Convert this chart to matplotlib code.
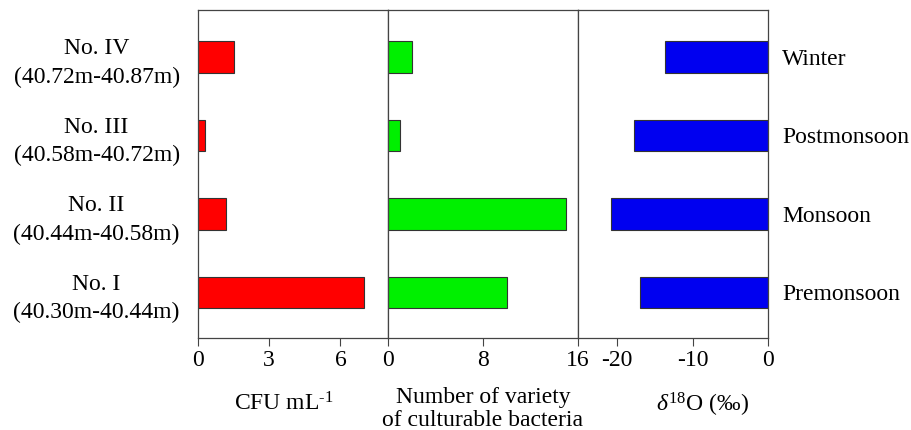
import matplotlib.pyplot as plt
import numpy as np

plt.rcParams['font.family'] = ['Liberation Serif', 'DejaVu Serif']
plt.rcParams['mathtext.fontset'] = 'custom'
plt.rcParams['mathtext.rm'] = 'Liberation Serif'
plt.rcParams['mathtext.it'] = 'Liberation Serif:italic'
plt.rcParams['axes.unicode_minus'] = False

# samples, bottom to top
samples = ['No. I\n(40.30m-40.44m)', 'No. II\n(40.44m-40.58m)',
           'No. III\n(40.58m-40.72m)', 'No. IV\n(40.72m-40.87m)']
seasons = ['Premonsoon', 'Monsoon', 'Postmonsoon', 'Winter']
cfu = [7.0, 1.2, 0.3, 1.5]
variety = [10, 15, 1, 2]
d18o = [-17.0, -20.8, -17.8, -13.7]

fig = plt.figure(figsize=(9.12, 4.3), dpi=100)
bot, h = 0.214, 0.763
ax1 = fig.add_axes([198 / 912, bot, 190 / 912, h])
ax2 = fig.add_axes([388 / 912, bot, 190 / 912, h], sharey=ax1)
ax3 = fig.add_axes([578 / 912, bot, 190 / 912, h], sharey=ax1)

y = np.arange(len(samples))
bh = 0.4
ax1.barh(y, cfu, height=bh, color='#ff0000', edgecolor='#333333', linewidth=0.8)
ax2.barh(y, variety, height=bh, color='#00f000', edgecolor='#333333', linewidth=0.8)
ax3.barh(y, d18o, height=bh, color='#0000f0', edgecolor='#333333', linewidth=0.8)

ax1.set_xlim(0, 8)
ax1.set_xticks([0, 3, 6])
ax2.set_xlim(0, 16)
ax2.set_xticks([0, 8, 16])
ax3.set_xlim(-25.2, 0)
ax3.set_xticks([-20, -10, 0])
ax1.set_ylim(-0.58, 3.6)

for ax in (ax1, ax2, ax3):
    for s in ax.spines.values():
        s.set_color('#444444')
        s.set_linewidth(0.9)
    ax.tick_params(axis='x', direction='out', length=6, width=0.8,
                   color='#444444', labelsize=17, pad=3)
    ax.tick_params(axis='y', length=0)

ax1.set_yticks(y)
ax1.set_yticklabels(samples, fontsize=17, ha='center', linespacing=1.45)
ax1.tick_params(axis='y', pad=73)
plt.setp(ax2.get_yticklabels(), visible=False)

ax3r = ax3.twinx()
ax3r.set_ylim(ax1.get_ylim())
ax3r.set_yticks(y)
ax3r.set_yticklabels(seasons, fontsize=17)
ax3r.tick_params(axis='y', length=0, pad=10)
for s in ax3r.spines.values():
    s.set_visible(False)
plt.setp(ax3.get_yticklabels(), visible=False)

ax1.set_xlabel(r'CFU mL$^{\text{-1}}$', fontsize=17)
ax1.xaxis.set_label_coords(0.453, -0.165)
ax2.set_xlabel('Number of variety\nof culturable bacteria', fontsize=17,
               linespacing=1.15)
ax2.xaxis.set_label_coords(0.5, -0.148)
ax3.set_xlabel(r'$\delta^{18}$O (‰)', fontsize=17)
ax3.xaxis.set_label_coords(0.653, -0.162)

fig.savefig('out.png', dpi=100)
